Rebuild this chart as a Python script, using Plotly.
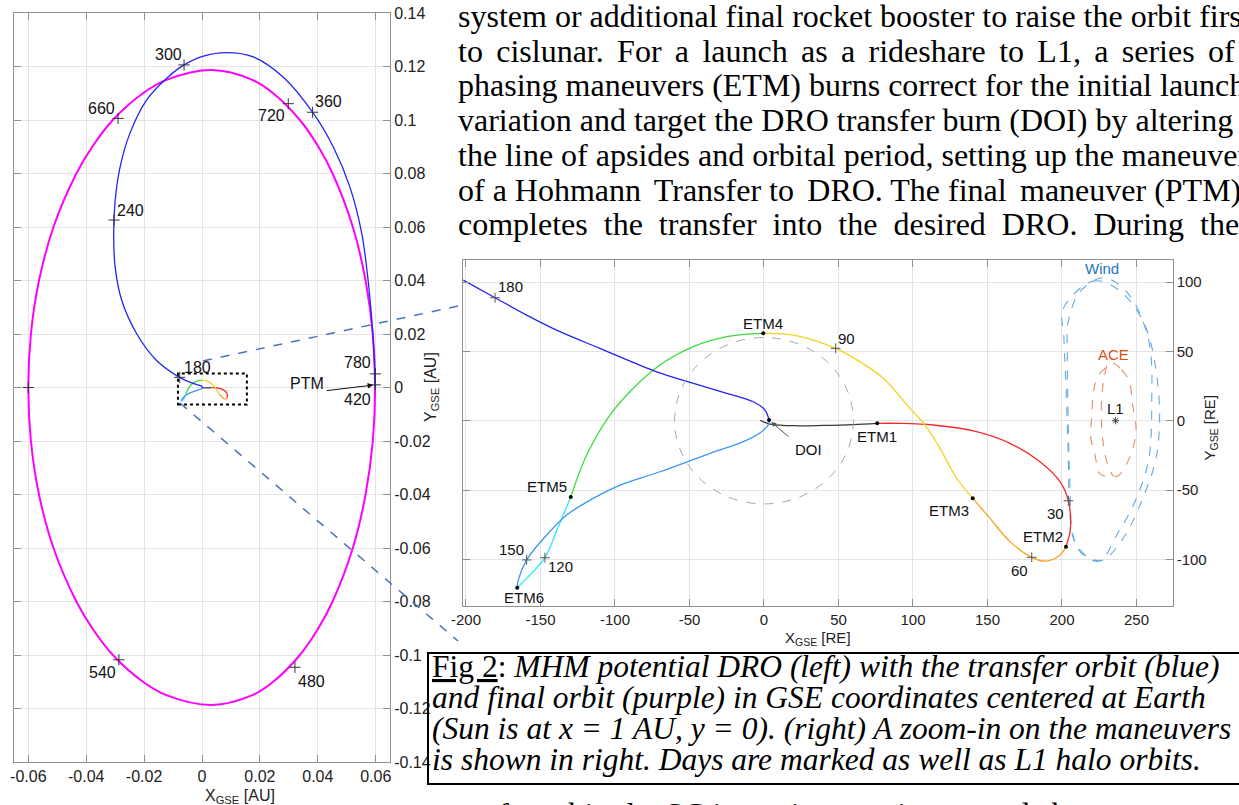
import plotly.graph_objects as go

W, H = 1239, 805
RE_IN_AU = 6378.137 / 149597870.7

# ---------------- Right panel: trajectory segments (Earth radii) ----------------
SEG_BLACK_X = [-2.5, 0.5, 5.0, 20.0, 40.0, 60.0, 76.0]
SEG_BLACK_Y = [0.3, -1.2, -2.6, -3.6, -3.4, -2.8, -1.9]
SEG_RED_X = [76.0, 91.3, 113.6, 142.7, 165.1, 185.2, 198.7, 204.3, 205.8, 205.4, 202.7]
SEG_RED_Y = [-1.9, -1.9, -3.1, -7.9, -16.3, -29.6, -44.0, -57.7, -70.4, -80.0, -90.8]
SEG_ORANGE_X = [202.7, 198.7, 189.7, 179.7, 165.1, 151.7, 140.1]
SEG_ORANGE_Y = [-90.8, -96.8, -101.2, -98.5, -87.2, -70.4, -56.0]
SEG_YELLOW_X = [140.1, 129.3, 118.1, 108.1, 98.0, 80.1, 64.4, 48.1, 19.7, -0.5]
SEG_YELLOW_Y = [-56.0, -41.5, -19.9, -3.1, 8.9, 30.6, 42.5, 52.2, 61.8, 63.0]
SEG_GREEN_X = [-0.5, -25.0, -47.4, -69.8, -87.7, -103.4, -119.0, -129.7]
SEG_GREEN_Y = [63.0, 60.6, 53.4, 40.2, 23.4, 4.1, -24.7, -55.0]
SEG_CYAN_X = [-129.7, -138.0, -147.0, -157.0, -165.6]
SEG_CYAN_Y = [-55.0, -76.4, -98.8, -111.2, -120.4]
SEG_SKY_X = [-165.6, -164.9, -159.3, -145.8, -132.4, -114.6, -96.6, -69.8, -36.2, -13.9, -1.6, 3.4, 3.4]
SEG_SKY_Y = [-120.4, -114.9, -100.4, -82.4, -68.0, -56.0, -46.4, -36.8, -23.5, -15.1, -7.9, -1.9, 0.5]
SEG_BLUE_X = [3.4, 0.7, -7.2, -25.0, -47.4, -72.0, -110.1, -136.9, -159.3, -180.5, -201.8]
SEG_BLUE_Y = [0.5, 7.7, 13.7, 19.8, 27.0, 35.3, 52.2, 64.2, 76.2, 88.7, 101.4]

# L1 halo orbits (Earth radii)
WIND1_X = [200.9, 221.0, 236.7, 254.6, 264.6, 263.5, 252.3, 241.1, 227.7, 218.8, 209.8, 205.8, 204.2, 202.7, 201.3, 200.9]
WIND1_Y = [81.0, 100.7, 95.4, 71.4, 23.4, -24.7, -60.8, -84.8, -100.4, -99.2, -89.6, -72.8, -24.7, 23.4, 59.4, 81.0]
WIND2_X = [204.2, 212.1, 227.7, 243.4, 257.9, 260.2, 257.9, 247.9, 236.7, 225.5, 214.3, 207.6, 205.4, 204.2, 203.6, 204.2]
WIND2_Y = [71.4, 93.0, 103.1, 93.0, 59.4, 11.3, -29.6, -60.8, -82.4, -101.2, -96.8, -84.8, -48.7, -0.7, 47.4, 71.4]
ACE1_X = [234.0, 240.1, 245.2, 247.4, 249.7, 247.9, 243.0, 237.8, 234.4, 227.7, 225.1, 222.1, 219.2, 219.7, 221.0, 223.3, 227.7, 234.0]
ACE1_Y = [41.4, 36.6, 28.1, 11.3, -5.5, -18.7, -31.9, -39.7, -40.1, -39.7, -37.9, -24.7, -11.5, -0.7, 18.5, 30.5, 36.6, 41.4]
ACE2_X = [230.0, 228.2, 226.6, 226.6, 228.2, 231.1, 234.4]
ACE2_Y = [39.7, 30.5, 16.1, -3.1, -19.9, -33.2, -40.1]
L1_X, L1_Y = [236.0], [0.0]
MOON_R = 60.0

# Day marks and manoeuvres (Earth radii)
R_DAYS = [30, 60, 90, 120, 150, 180]
R_DAY_X = [204.3, 179.7, 48.1, -147.0, -159.3, -180.5]
R_DAY_Y = [-57.7, -98.5, 52.2, -98.8, -100.4, 88.7]
MANEUVERS = ["ETM1", "ETM2", "ETM3", "ETM4", "ETM5", "ETM6", "DOI"]
MAN_X = [76.0, 202.7, 140.1, -0.5, -129.7, -165.6, 3.4]
MAN_Y = [-1.9, -90.8, -56.0, 63.0, -55.0, -120.4, 0.5]

# ---------------- Left panel (AU) ----------------
TRANSFER_X = [-0.0086, -0.0157, -0.0226, -0.0277, -0.0300, -0.0305, -0.0300, -0.0283, -0.0249, -0.0191,
              -0.0122, -0.0062, 0.0005, 0.0086, 0.0177, 0.0281, 0.0382, 0.0454, 0.0511, 0.0552, 0.0575,
              0.0590, 0.0596, 0.0598]
TRANSFER_Y = [0.0043, 0.0101, 0.0202, 0.0325, 0.0450, 0.0575, 0.0699, 0.0824, 0.0950, 0.1075,
              0.1156, 0.1206, 0.1239, 0.1252, 0.1236, 0.1160, 0.1029, 0.0898, 0.0749, 0.0575, 0.0388,
              0.0201, 0.0080, 0.0]
DRO_X = [0.0034, -0.0123, -0.0204, -0.0308, -0.0379, -0.0434, -0.0513, -0.0563, -0.0591, -0.0600,
         -0.0591, -0.0563, -0.0513, -0.0434, -0.0379, -0.0308, -0.0204, -0.0123, 0.0034,
         0.0174, 0.0246, 0.0338, 0.0402, 0.0451, 0.0521, 0.0565, 0.0590, 0.0598,
         0.0590, 0.0565, 0.0521, 0.0451, 0.0402, 0.0338, 0.0246, 0.0174, 0.0034]
DRO_Y = [0.1187, 0.115, 0.11, 0.10, 0.09, 0.08, 0.06, 0.04, 0.02, 0.0,
         -0.02, -0.04, -0.06, -0.08, -0.09, -0.10, -0.11, -0.115, -0.1187,
         -0.115, -0.11, -0.10, -0.09, -0.08, -0.06, -0.04, -0.02, 0.0,
         0.02, 0.04, 0.06, 0.08, 0.09, 0.10, 0.11, 0.115, 0.1187]
L_DAYS = [180, 240, 300, 360, 420, 480, 540, 600, 660, 720, 780]
L_DAY_X = [-0.0077, -0.0304, -0.0062, 0.0382, 0.0598, 0.0321, -0.0287, -0.0600, -0.0290, 0.0298, 0.0599]
L_DAY_Y = [0.0038, 0.0626, 0.1206, 0.1029, 0.0010, -0.1046, -0.1018, 0.0, 0.1006, 0.1061, 0.0051]
INSET_BOX = [-0.0083, 0.0155, -0.0064, 0.0052]

# ---------------- Axis ticks ----------------
LX_TICKS = [-0.06, -0.04, -0.02, 0, 0.02, 0.04, 0.06]
LX_TEXT = ["-0.06", "-0.04", "-0.02", "0", "0.02", "0.04", "0.06"]
LY_TICKS = [-0.14, -0.12, -0.10, -0.08, -0.06, -0.04, -0.02, 0, 0.02, 0.04, 0.06, 0.08, 0.10, 0.12, 0.14]
LY_TEXT = ["-0.14", "-0.12", "-0.1", "-0.08", "-0.06", "-0.04", "-0.02", "0", "0.02", "0.04", "0.06", "0.08", "0.1", "0.12", "0.14"]
RX_TICKS = [-200, -150, -100, -50, 0, 50, 100, 150, 200, 250]
RX_TEXT = ["-200", "-150", "-100", "-50", "0", "50", "100", "150", "200", "250"]
RY_TICKS = [-100, -50, 0, 50, 100]
RY_TEXT = ["-100", "-50", "0", "50", "100"]

# ---------------- Text ----------------
S6 = "\u2006"  # small extra space used to mimic the justified paragraph
BODY_LINES = [
    "system or additional final rocket booster to raise the orbit first",
    (" " + S6).join("to cislunar. For a launch as a rideshare to L1, a series of Earth".split(" ")),
    "phasing maneuvers (ETM) burns correct for the initial launch",
    "variation and target the DRO transfer burn (DOI) by altering",
    "the line of apsides and orbital period, setting up the maneuver",
    "of a Hohmann" + S6 + " Transfer to" + S6 + " DRO. The final" + S6 + " maneuver (PTM)",
    "completes  the  transfer  into  the  desired  DRO.  During  the",
]
CAPTION_LINES = [
    "<u>Fig 2</u>: <i>MHM potential DRO (left) with the transfer orbit (blue)</i>",
    "<i>and final orbit (purple) in GSE coordinates centered at Earth</i>",
    "<i>(Sun is at x = 1 AU, y = 0). (right) A zoom-in on the maneuvers</i>",
    "<i>is shown in right. Days are marked as well as L1 halo orbits.</i>",
]
TAIL_LINE = "transfer orbit, the SC is put into a science mode between maneuvers"

# ---------------- Styles ----------------
C_BLUE, C_SKY, C_CYAN, C_GREEN = "#2323f5", "#3b96f5", "#2ee6f5", "#3ddc3d"
C_YELLOW, C_ORANGE, C_RED, C_BLACK = "#f5d21e", "#f9a21b", "#f52a2a", "#3a3a3a"
C_MAGENTA = "#ff00ff"
C_WIND, C_ACE = "#63a9e3", "#e98a62"
GRID, FRAME = "#e4e4e4", "#909090"
SANS = "Liberation Sans"
SERIF = "Liberation Serif"


def px_x(p):
    return p / W


def px_y(p):
    return 1 - p / H


fig = go.Figure()

segments = [
    (SEG_BLACK_X, SEG_BLACK_Y, C_BLACK),
    (SEG_RED_X, SEG_RED_Y, C_RED),
    (SEG_ORANGE_X, SEG_ORANGE_Y, C_ORANGE),
    (SEG_YELLOW_X, SEG_YELLOW_Y, C_YELLOW),
    (SEG_GREEN_X, SEG_GREEN_Y, C_GREEN),
    (SEG_CYAN_X, SEG_CYAN_Y, C_CYAN),
    (SEG_SKY_X, SEG_SKY_Y, C_SKY),
    (SEG_BLUE_X, SEG_BLUE_Y, C_BLUE),
]

# Left panel: final DRO and transfer orbit
fig.add_trace(go.Scatter(x=DRO_X, y=DRO_Y, mode="lines", xaxis="x", yaxis="y",
                         line=dict(color=C_MAGENTA, width=2, shape="spline", smoothing=1.0)))
fig.add_trace(go.Scatter(x=TRANSFER_X, y=TRANSFER_Y, mode="lines", xaxis="x", yaxis="y",
                         line=dict(color=C_BLUE, width=1.3, shape="spline", smoothing=1.0)))
for sx, sy, col in segments:
    fig.add_trace(go.Scatter(x=[v * RE_IN_AU for v in sx], y=[v * RE_IN_AU for v in sy],
                             mode="lines", xaxis="x", yaxis="y",
                             line=dict(color=col, width=1.3, shape="spline", smoothing=1.0)))
fig.add_trace(go.Scatter(x=L_DAY_X, y=L_DAY_Y, mode="markers", xaxis="x", yaxis="y",
                         marker=dict(symbol="cross-thin", size=8, line=dict(color="#333333", width=1))))

# Right panel
for hx, hy in [(WIND1_X, WIND1_Y), (WIND2_X, WIND2_Y)]:
    fig.add_trace(go.Scatter(x=hx, y=hy, mode="lines", xaxis="x2", yaxis="y2",
                             line=dict(color=C_WIND, width=1.1, dash="dash", shape="spline", smoothing=1.0)))
for hx, hy in [(ACE1_X, ACE1_Y), (ACE2_X, ACE2_Y)]:
    fig.add_trace(go.Scatter(x=hx, y=hy, mode="lines", xaxis="x2", yaxis="y2",
                             line=dict(color=C_ACE, width=1.1, dash="dash", shape="spline", smoothing=1.0)))
for sx, sy, col in segments:
    fig.add_trace(go.Scatter(x=sx, y=sy, mode="lines", xaxis="x2", yaxis="y2",
                             line=dict(color=col, width=1.3, shape="spline", smoothing=1.0)))
fig.add_trace(go.Scatter(x=R_DAY_X, y=R_DAY_Y, mode="markers", xaxis="x2", yaxis="y2",
                         marker=dict(symbol="cross-thin", size=7, line=dict(color="#555555", width=1))))
fig.add_trace(go.Scatter(x=MAN_X, y=MAN_Y, mode="markers", xaxis="x2", yaxis="y2",
                         marker=dict(symbol="circle", size=4, color="black")))
fig.add_trace(go.Scatter(x=L1_X, y=L1_Y, mode="markers", xaxis="x2", yaxis="y2",
                         marker=dict(symbol="asterisk", size=6, line=dict(color="#444444", width=1))))

ann = []
L_OFFS = {180: (18, 10), 240: (17, 10), 300: (-16, 10), 360: (16, 11), 420: (-18, -15),
          480: (17, -14), 540: (-16, -13), 660: (-17, 10), 720: (-17, -12), 780: (-18, 11)}
for d, x, y in zip(L_DAYS, L_DAY_X, L_DAY_Y):
    if d in L_OFFS:
        dx, dy = L_OFFS[d]
        ann.append(dict(x=x, y=y, xref="x", yref="y", text=str(d), showarrow=False,
                        xshift=dx, yshift=dy, font=dict(family=SANS, size=16, color="#111")))
i420 = L_DAYS.index(420)
ann.append(dict(x=L_DAY_X[i420], y=L_DAY_Y[i420], xref="x", yref="y", text="", showarrow=True,
                ax=-50, ay=6, arrowhead=2, arrowsize=1.1, arrowwidth=1, arrowcolor="#111", standoff=2))
ann.append(dict(x=L_DAY_X[i420], y=L_DAY_Y[i420], xref="x", yref="y", text="PTM", showarrow=False,
                xshift=-68, yshift=1, font=dict(family=SANS, size=16, color="#111")))

R_OFFS = {30: (-13, -13), 60: (-12, -13), 90: (11, 10), 120: (16, -9), 150: (-15, 10), 180: (15, 11)}
for d, x, y in zip(R_DAYS, R_DAY_X, R_DAY_Y):
    dx, dy = R_OFFS[d]
    ann.append(dict(x=x, y=y, xref="x2", yref="y2", text=str(d), showarrow=False,
                    xshift=dx, yshift=dy, font=dict(family=SANS, size=15, color="#111")))
M_OFFS = {"ETM1": (0, -13), "ETM2": (-23, 10), "ETM3": (-24, -12), "ETM4": (0, 10),
          "ETM5": (-24, 10), "ETM6": (7, -10), "DOI": (39, -29)}
for m, x, y in zip(MANEUVERS, MAN_X, MAN_Y):
    dx, dy = M_OFFS[m]
    ann.append(dict(x=x, y=y, xref="x2", yref="y2", text=m, showarrow=False,
                    xshift=dx, yshift=dy, font=dict(family=SANS, size=15, color="#111")))
iD = MANEUVERS.index("DOI")
ann.append(dict(x=MAN_X[iD], y=MAN_Y[iD], xref="x2", yref="y2", text="", showarrow=True,
                ax=21, ay=18, arrowhead=2, arrowsize=1, arrowwidth=1, arrowcolor="#555", standoff=3))
ann.append(dict(x=L1_X[0], y=L1_Y[0], xref="x2", yref="y2", text="L1", showarrow=False,
                yshift=12, font=dict(family=SANS, size=15, color="#111")))
ann.append(dict(x=226.6, y=109.9, xref="x2", yref="y2", text="Wind", showarrow=False,
                font=dict(family=SANS, size=15, color="#1a78c2")))
ann.append(dict(x=234.4, y=47.4, xref="x2", yref="y2", text="ACE", showarrow=False,
                font=dict(family=SANS, size=15, color="#d95319")))

# axis titles
ann.append(dict(x=px_x(203), y=px_y(796), xref="paper", yref="paper", text="X<sub>GSE</sub> [AU]",
                showarrow=False, yanchor="middle", font=dict(family=SANS, size=16, color="#222")))
ann.append(dict(x=px_x(432), y=px_y(387), xref="paper", yref="paper", text="Y<sub>GSE</sub> [AU]",
                showarrow=False, textangle=-90, font=dict(family=SANS, size=16, color="#222")))
ann.append(dict(x=px_x(818), y=px_y(638), xref="paper", yref="paper", text="X<sub>GSE</sub> [RE]",
                showarrow=False, yanchor="middle", font=dict(family=SANS, size=15, color="#222")))
ann.append(dict(x=px_x(1222), y=px_y(428), xref="paper", yref="paper", text="Y<sub>GSE</sub> [RE]",
                showarrow=False, textangle=-90, font=dict(family=SANS, size=15, color="#222")))

for i, line in enumerate(BODY_LINES):
    ann.append(dict(x=px_x(456), y=px_y(16 + i * 34.7), xref="paper", yref="paper", text=line,
                    showarrow=False, xanchor="left", yanchor="middle",
                    font=dict(family=SERIF, size=32, color="black")))
for i, line in enumerate(CAPTION_LINES):
    ann.append(dict(x=px_x(430), y=px_y(666 + i * 31.3), xref="paper", yref="paper", text=line,
                    showarrow=False, xanchor="left", yanchor="middle",
                    font=dict(family=SERIF, size=31.5, color="black")))
ann.append(dict(x=px_x(434), y=px_y(814), xref="paper", yref="paper", text=TAIL_LINE,
                showarrow=False, xanchor="left", yanchor="middle",
                font=dict(family=SERIF, size=32, color="black")))

shapes = [
    dict(type="rect", xref="x", yref="y", x0=INSET_BOX[0], x1=INSET_BOX[1], y0=INSET_BOX[2], y1=INSET_BOX[3],
         line=dict(color="black", width=2, dash="dot")),
    dict(type="circle", xref="x2", yref="y2", x0=-MOON_R, x1=MOON_R, y0=-MOON_R, y1=MOON_R,
         line=dict(color="#a8a8a8", width=1, dash="dash")),
    dict(type="line", xref="paper", yref="paper", x0=px_x(203), y0=px_y(361), x1=px_x(463), y1=px_y(305),
         line=dict(color="#4a72c0", width=1.5, dash="dash")),
    dict(type="line", xref="paper", yref="paper", x0=px_x(180), y0=px_y(403), x1=px_x(458), y1=px_y(641),
         line=dict(color="#4a72c0", width=1.5, dash="dash")),
    dict(type="rect", xref="paper", yref="paper", x0=px_x(428), x1=px_x(1250), y0=px_y(784), y1=px_y(653),
         line=dict(color="black", width=2)),
]


def axis(**kw):
    base = dict(showgrid=True, gridcolor=GRID, gridwidth=1, zeroline=False, showline=True,
                linecolor=FRAME, linewidth=1, mirror="ticks", ticks="inside", ticklen=7,
                tickcolor=FRAME, tickmode="array", automargin=False)
    base.update(kw)
    return base


fig.update_layout(
    width=W, height=H, margin=dict(l=0, r=0, t=0, b=0, autoexpand=False),
    paper_bgcolor="white", plot_bgcolor="white", showlegend=False,
    xaxis=axis(domain=[px_x(14), px_x(390)], range=[-0.06494, 0.06494], anchor="y",
               tickvals=LX_TICKS, ticktext=LX_TEXT,
               tickfont=dict(family=SANS, size=16, color="#222")),
    yaxis=axis(domain=[px_y(762), px_y(13)], range=[-0.14, 0.14], anchor="x", side="right",
               tickvals=LY_TICKS, ticktext=LY_TEXT,
               tickfont=dict(family=SANS, size=16, color="#222")),
    xaxis2=axis(domain=[px_x(463), px_x(1172.7)], range=[-202, 274.3], anchor="y2",
                tickvals=RX_TICKS, ticktext=RX_TEXT,
                tickfont=dict(family=SANS, size=15, color="#222")),
    yaxis2=axis(domain=[px_y(605.7), px_y(260)], range=[-133.4, 115.9], anchor="x2", side="right",
                tickvals=RY_TICKS, ticktext=RY_TEXT,
                tickfont=dict(family=SANS, size=15, color="#222")),
    annotations=ann,
    shapes=shapes,
)

fig.write_html("out.html", config={"displayModeBar": False},
               post_script="document.body.style.margin='0px';document.body.style.overflow='hidden';")
